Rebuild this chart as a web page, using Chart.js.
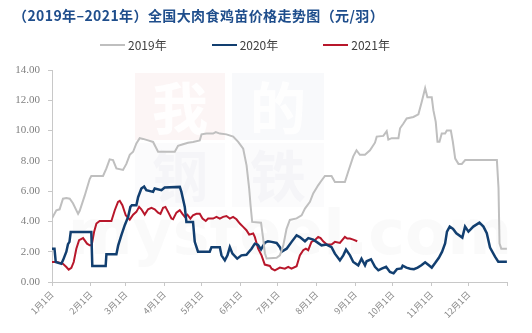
<!DOCTYPE html>
<html>
<head>
<meta charset="utf-8">
<script src="https://cdn.jsdelivr.net/npm/chart.js@4.4.1/dist/chart.umd.min.js"></script>
<style>
  body { margin: 0; background: #fff; }
  #wrap { position: relative; width: 532px; height: 333px; overflow: hidden; }
  #title { position: absolute; left: 13px; top: 5px; font: bold 14px "Noto Sans CJK SC", sans-serif;
           color: #1f4e8c; white-space: nowrap; letter-spacing: 0.4px; }
  #legend { position: absolute; left: 100px; top: 36px; display: flex; gap: 45px;
            font: 12px "Noto Sans CJK SC", "Noto Sans", sans-serif; color: #404040; }
  #legend .item { display: flex; align-items: center; }
  #legend .swatch { width: 25px; height: 2px; margin-right: 3px; }
  canvas { position: absolute; left: 0; top: 0; }
</style>
</head>
<body>
<div id="wrap">
  <canvas id="c" width="532" height="333"></canvas>
  <div id="title">（2019年–2021年）全国大肉食鸡苗价格走势图（元/羽）</div>
  <div id="legend"></div>
</div>
<script>
// day-of-year ticks (month starts) and their labels
const monthDays = [0, 31, 59, 90, 120, 151, 181, 212, 243, 273, 304, 334, 365];
const monthLabels = ["1月1日", "2月1日", "3月1日", "4月1日", "5月1日", "6月1日",
  "7月1日", "8月1日", "9月1日", "10月1日", "11月1日", "12月1日", ""];

// 2019 — day of year / price (元/羽)
const days2019 = [0, 3.5, 6.1, 8.8, 11.5, 14.2, 16.8, 20.9, 22.2, 26.2, 30.2, 31.5, 40.9, 43.6, 46.2, 48.9,
  51.6, 56.9, 59.6, 62.3, 65, 67.6, 70.3, 73, 77, 81, 85, 98.4, 101, 105, 109, 113, 118.4, 119.8, 123.8,
  129.1, 131.2, 134.5, 139.8, 145.2, 149.2, 153.2, 155.9, 158, 159.1, 160.4, 167.5, 169, 170.6, 172, 180,
  182.6, 185.3, 187.9, 190.6, 196, 200, 202.7, 206.7, 209.3, 213.4, 216, 218.7, 224, 226.7, 234.7, 237.4,
  241.4, 244, 246.7, 250.8, 254.8, 258.8, 260.2, 265.5, 268.2, 269.5, 272.2, 277.6, 278.9, 281.6, 284.2,
  289.6, 293.6, 296.3, 299, 300.8, 304.3, 305.6, 307.5, 308.9, 310.5, 312.3, 315, 316.4, 319.6, 321.2,
  323.1, 325.7, 328.4, 331.1, 356.5, 357.8, 358.6, 360, 364.5];
const price2019 = [4.2, 4.74, 4.8, 5.5, 5.55, 5.5, 5.2, 4.5, 4.7, 5.7, 6.8, 7.0, 7.0, 7.5, 8.1, 8.05,
  7.5, 7.4, 7.8, 8.4, 8.6, 9.15, 9.5, 9.45, 9.35, 9.25, 8.6, 8.6, 9.0, 9.1, 9.2, 9.25, 9.35, 9.75, 9.8,
  9.8, 9.9, 9.8, 9.75, 9.6, 9.25, 8.8, 7.7, 6.17, 5.07, 3.97, 3.92, 3.0, 1.9, 1.55, 1.6,
  1.76, 2.4, 3.5, 4.1, 4.2, 4.4, 4.85, 5.3, 5.85, 6.4, 6.7, 7.0, 7.0, 6.6, 6.6, 7.3,
  8.3, 8.7, 8.4, 8.4, 8.7, 9.2, 9.6, 9.65, 9.96, 9.4, 9.5, 9.5, 10.15, 10.47, 10.8,
  10.9, 11.07, 11.9, 12.8, 12.2, 12.2, 11.35, 10.58, 9.26, 9.26, 9.8, 9.8, 10.0, 10.0, 9.26,
  8.15, 7.8, 7.8, 8.05, 8.05, 6.2, 2.55, 2.2, 2.2];

// 2020
const days2020 = [0, 2, 3, 7.5, 8.8, 11.5, 12.8, 14, 15, 31.5, 32.3, 43, 43.6, 51.6, 53, 55.6, 58.3, 61,
  62.8, 64, 67.6, 69, 71.6, 73.8, 75.6, 81, 82.3, 87.7, 90.3, 102.4, 103.7, 106.4, 107.7, 113, 114.4, 117,
  126.4, 127.8, 134.5, 135.8, 138.5, 140.6, 142.5, 144.6, 148.4, 151.8, 155.8, 159.9, 162.5, 165, 167.5,
  170.6, 173, 176, 180, 182.6, 184, 188, 192, 196, 198.6, 202.7, 205.4, 209.3, 212, 216, 220, 224, 226.7,
  230.7, 233.4, 235.6, 238.8, 241.4, 245.4, 248, 250.8, 252.1, 255.6, 258.8, 261.5, 264.2, 267.7, 270.8,
  273.7, 276.4, 280, 281, 284, 287, 290, 293, 296, 299, 302, 304.3, 307, 310, 312.6, 315, 316.5, 318.7,
  321.4, 324, 328.8, 331, 333.7, 337.6, 342.5, 345.7, 348.4, 351, 355, 357.6, 364.5];
const price2020 = [2.2, 2.2, 1.32, 1.2, 1.43, 2.0, 2.5, 2.65, 3.3, 3.3, 1.05, 1.05, 1.83, 1.83, 2.4, 3.1, 3.75, 4.3,
  4.96, 5.07, 5.07, 5.6, 6.17, 6.3, 6.06, 5.95, 6.17, 6.06, 6.24, 6.28, 5.95, 4.96, 3.97, 3.97, 2.65, 2.0,
  2.0, 2.3, 2.3, 1.76, 1.43, 1.76, 2.3, 1.87, 1.54, 1.76, 1.8, 2.2, 2.53, 2.45, 2.15,
  2.6, 2.69, 2.65, 2.58, 2.3, 2.0, 2.2, 2.65, 3.08, 2.97, 2.69, 2.9, 2.8, 2.65, 2.42, 2.47, 2.3, 1.87,
  1.43, 1.76, 2.14, 1.76, 1.32, 1.1, 1.54, 1.1, 1.37, 1.5, 1.0, 0.77, 0.88, 1.0, 0.66,
  0.57, 0.85, 0.9, 1.08, 0.95, 0.88, 0.85, 0.95, 1.1, 1.3, 1.1, 0.95, 1.25, 1.6, 2.0, 2.55, 3.33, 3.66,
  3.5, 3.22, 2.93, 3.66, 3.33, 3.66, 3.92, 3.66, 3.22, 2.27, 1.67, 1.34, 1.34];

// 2021 (through early September)
const days2021 = [0, 3.5, 6.1, 8.8, 11.5, 13.4, 15.5, 17.4, 19.5, 21.7, 24.9, 28.1, 30.2, 31.8, 33.7, 35.6,
  38.2, 47.6, 50.3, 52.9, 54.3, 56.4, 59.1, 62.3, 65, 67.6, 69.8, 71.6, 74.3, 77, 79.7, 82.3, 85, 86.9, 89,
  90.9, 93, 95.7, 97, 99.7, 102.4, 104.5, 106.4, 108.5, 110.9, 113, 115.7, 118.4, 120.6, 123.2, 125.1,
  129.1, 131.8, 134.5, 137.1, 139.8, 142.5, 145.1, 147.8, 150.5, 153.2, 155.8, 158, 161.2, 162.5, 165.2,
  167.9, 170.5, 174.6, 176, 178.6, 182.6, 186.6, 189.3, 191.9, 196, 198.6, 201.3, 203.4, 205.3, 207.9,
  210.6, 213.3, 215.2, 217.3, 220, 224, 226.7, 230.7, 234.7, 236.6, 238.7, 241.4, 244.6];
const price2021 = [1.32, 1.32, 1.28, 1.2, 0.99, 0.82, 0.93, 1.32, 2.2, 2.76, 2.9, 2.53, 2.42, 2.42, 3.3, 3.86,
  4.03, 4.03, 4.74, 5.29, 5.36, 5.07, 4.41, 4.12, 4.45, 4.63, 4.96, 4.8, 4.45, 4.8, 4.9, 4.8, 4.58, 4.5, 4.9,
  4.96, 4.63, 4.19, 4.14, 4.58, 4.74, 4.5, 4.3, 4.45, 4.19, 4.41, 4.5, 4.5, 4.19, 4.03, 4.19,
  4.19, 4.3, 4.19, 4.3, 4.36, 4.19, 4.3, 4.14, 3.86, 3.64, 3.42, 3.13, 3.2, 2.98, 2.2,
  1.76, 1.15, 1.06, 0.88, 0.77, 0.95, 0.88, 1.0, 0.88, 1.04, 1.76, 2.1, 2.2, 2.1, 2.65,
  2.76, 2.98, 2.9, 2.69, 2.49, 2.47, 2.65, 2.58, 2.98, 2.87, 2.87, 2.8, 2.69];

const series = [
  { label: "2019年", days: days2019, values: price2019, color: "#bfbfbf", width: 2 },
  { label: "2020年", days: days2020, values: price2020, color: "#123f70", width: 2.5 },
  { label: "2021年", days: days2021, values: price2021, color: "#b8172b", width: 2 },
];

// html legend (wide spacing between entries)
const legendEl = document.getElementById("legend");
series.forEach(s => {
  const it = document.createElement("div");
  it.className = "item";
  it.innerHTML = `<span class="swatch" style="background:${s.color}"></span><span>${s.label}</span>`;
  legendEl.appendChild(it);
});

// faint site watermark behind the lines
const watermark = {
  id: "watermark",
  beforeDatasetsDraw(chart) {
    const c = chart.ctx;
    c.save();
    c.fillStyle = "rgba(226,140,140,0.09)";
    c.fillRect(135, 73, 90, 67);
    c.fillStyle = "rgba(170,180,200,0.08)";
    c.fillRect(232, 73, 92, 67);
    c.fillStyle = "rgba(170,180,200,0.05)";
    c.fillRect(135, 143, 90, 64);
    c.fillRect(232, 143, 92, 64);
    c.fillStyle = "rgba(255,255,255,0.95)";
    c.font = "bold 56px 'Noto Sans CJK SC'";
    c.textAlign = "center";
    c.textBaseline = "middle";
    c.fillText("我", 180, 108);
    c.fillText("的", 278, 108);
    c.fillStyle = "rgba(150,160,180,0.06)";
    c.fillText("钢", 180, 176);
    c.fillText("铁", 278, 176);
    c.font = "bold 62px 'DejaVu Sans'";
    c.fillStyle = "rgba(150,150,160,0.05)";
    c.fillText("mysteel.com", 290, 238);
    c.restore();
  },
};

new Chart(document.getElementById("c"), {
  type: "line",
  data: {
    datasets: series.map(s => ({
      label: s.label,
      data: s.days.map((d, i) => ({ x: d, y: s.values[i] })),
      borderColor: s.color,
      borderWidth: s.width,
      pointRadius: 0,
      tension: 0,
      fill: false,
    })),
  },
  options: {
    responsive: false,
    animation: false,
    layout: { padding: { top: 70, right: 24.5, left: 0, bottom: 0 } },
    plugins: { legend: { display: false }, tooltip: { enabled: false } },
    scales: {
      x: {
        type: "linear", min: 0, max: 365,
        afterBuildTicks: s => { s.ticks = monthDays.map(v => ({ value: v })); },
        afterFit: s => { s.height = 51; },
        ticks: {
          autoSkip: false, minRotation: 45, maxRotation: 45, padding: 3,
          color: "#8a8a8a", font: { size: 9, family: "'Noto Sans CJK SC'" },
          callback: v => monthLabels[monthDays.indexOf(v)] || "",
        },
        grid: { drawOnChartArea: false, tickLength: 4, color: "#c8c8c8" },
        border: { color: "#c8c8c8" },
      },
      y: {
        min: 0, max: 14,
        afterFit: s => { s.width = 52; },
        ticks: {
          stepSize: 2, padding: 8, color: "#7f7f7f",
          font: { size: 11, family: "'Liberation Serif'" },
          callback: v => v.toFixed(2),
        },
        grid: { drawOnChartArea: false, tickLength: 4, color: "#c8c8c8" },
        border: { color: "#c8c8c8" },
      },
    },
  },
  plugins: [watermark],
});
</script>
</body>
</html>
